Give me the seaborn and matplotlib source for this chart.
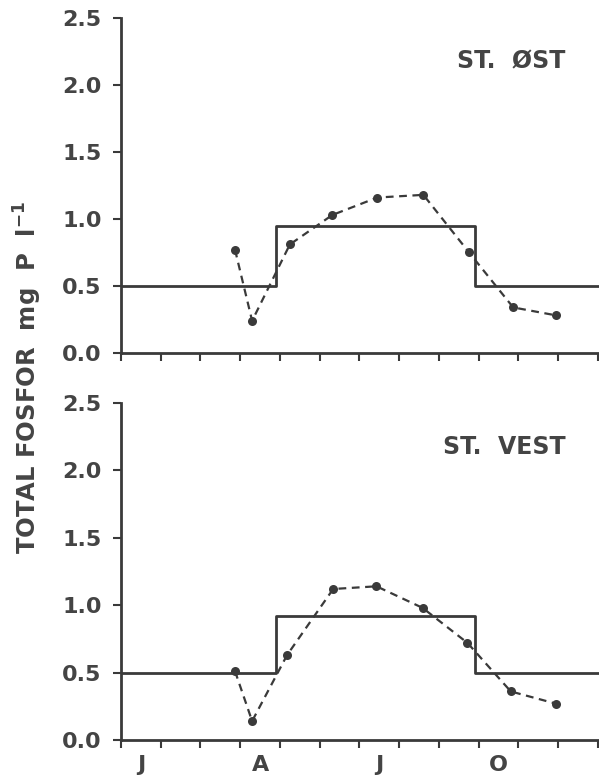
import matplotlib
matplotlib.use("Agg")
import matplotlib.pyplot as plt
import seaborn as sns
import pandas as pd

# månedsskala: 0 = 1. jan, 12 = 31. des
month_labels = ['J', 'A', 'J', 'O']
month_label_pos = [0.5, 3.5, 6.5, 9.5]

stations = ['ST.  ØST', 'ST.  VEST']

# trinnkurve (grenseverdi)
step_x = [0.0, 3.9, 8.9, 12.1]
step_ost = [0.5, 0.95, 0.5, 0.5]
step_vest = [0.5, 0.92, 0.5, 0.5]

# målte verdier
obs_x_ost = [2.87, 3.30, 4.25, 5.32, 6.45, 7.61, 8.76, 9.87, 10.96]
obs_ost = [0.77, 0.24, 0.81, 1.03, 1.16, 1.18, 0.75, 0.34, 0.28]
obs_x_vest = [2.87, 3.30, 4.18, 5.34, 6.43, 7.59, 8.72, 9.81, 10.94]
obs_vest = [0.51, 0.14, 0.63, 1.12, 1.14, 0.98, 0.72, 0.36, 0.27]

sns.set_style('ticks')
plt.rcParams['font.family'] = ['DejaVu Sans']
plt.rcParams['font.weight'] = 'bold'

col = '#3a3a3a'
txt = '#444444'

fig = plt.figure(figsize=(5.99, 7.79), dpi=100)
ax_top = fig.add_axes([0.202, 0.5469, 0.798, 0.430])
ax_bot = fig.add_axes([0.202, 0.0501, 0.798, 0.4326])

panels = [
    (ax_top, stations[0], step_ost, obs_x_ost, obs_ost),
    (ax_bot, stations[1], step_vest, obs_x_vest, obs_vest),
]

for ax, name, step_y, ox, oy in panels:
    df_step = pd.DataFrame({'x': step_x, 'y': step_y})
    df_obs = pd.DataFrame({'x': ox, 'y': oy})
    sns.lineplot(data=df_step, x='x', y='y', ax=ax, color=col, lw=2.0,
                 drawstyle='steps-post', estimator=None, sort=False)
    sns.lineplot(data=df_obs, x='x', y='y', ax=ax, color=col, lw=1.6,
                 marker='o', markersize=6.5, markeredgewidth=0,
                 dashes=[(3.5, 2.5)], style=[0] * len(ox), legend=False,
                 estimator=None, sort=False)
    ax.set_xlim(0, 12.03)
    ax.set_ylim(0, 2.5)
    ax.set_yticks([0, 0.5, 1.0, 1.5, 2.0, 2.5])
    ax.set_yticklabels(['0.0', '0.5', '1.0', '1.5', '2.0', '2.5'])
    ax.set_xticks(range(13))
    ax.set_xticklabels([])
    ax.tick_params(axis='both', which='major', direction='out', length=6,
                   width=1.5, color=col, labelsize=16, labelcolor=txt, pad=8)
    ax.set_xlabel('')
    ax.set_ylabel('')
    for s in ['top', 'right']:
        ax.spines[s].set_visible(False)
    for s in ['left', 'bottom']:
        ax.spines[s].set_linewidth(2.0)
        ax.spines[s].set_color(col)
    ax.text(0.93, 0.87, name, transform=ax.transAxes, ha='right', va='center',
            fontsize=17, fontweight='bold', color=txt)

ax_bot.set_xticks(month_label_pos, minor=True)
ax_bot.set_xticklabels(month_labels, minor=True)
ax_bot.tick_params(axis='x', which='minor', length=0, labelsize=16,
                   labelcolor=txt, pad=11)

fig.text(0.047, 0.515, 'TOTAL FOSFOR  mg  P  l$^{\\mathbf{-1}}$', rotation=90,
         ha='center', va='center', fontsize=17.5, fontweight='bold', color=txt)

fig.savefig('out.png', dpi=100)
